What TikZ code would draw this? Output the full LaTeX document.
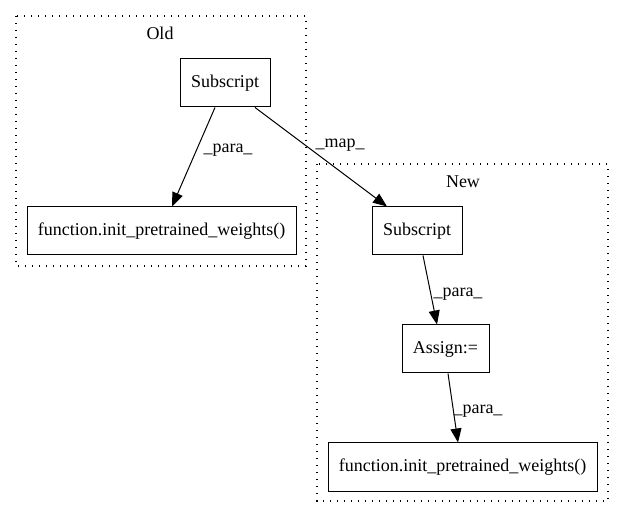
\documentclass[tikz,border=0pt]{standalone}
\usepackage{fontspec}
\setmainfont{Liberation Serif}
\usetikzlibrary{arrows.meta}
\begin{document}
\begin{tikzpicture}[x=1pt,y=-1pt,
  box/.style={draw,line width=1pt,inner sep=0pt,minimum height=48pt,font=\fontsize{18}{20}\selectfont},
  cluster/.style={draw,line width=1.1pt,dash pattern=on 1.3pt off 5.7pt},
  edge/.style={line width=1pt,-{Triangle[length=14pt,width=11pt]}},
  lbl/.style={font=\fontsize{18}{20}\selectfont,inner sep=0pt}]
\useasboundingbox (0,0) rectangle (624,518);
% clusters
\draw[cluster] (16,16) rectangle (306,266);
\node[lbl] (oldlbl) at (160,33) {Old};
\draw[cluster] (317,164) rectangle (608,501);
\node[lbl] (newlbl) at (463,182) {New};
% nodes
\node[box,minimum width=90pt] (os) at (225,83) {Subscript};
\node[box,minimum width=269pt] (of) at (161.5,231) {function.init\_pretrained\_weights()};
\node[box,minimum width=90pt] (ns) at (417,231) {Subscript};
\node[box,minimum width=87pt] (as) at (445.5,349) {Assign:=};
\node[box,minimum width=269pt] (nf) at (462.5,467) {function.init\_pretrained\_weights()};
% edges
\draw[edge] ([xshift=-10pt]os.south) -- ([xshift=10.5pt]of.north);
\draw[edge] ([xshift=30pt]os.south) -- ([xshift=-30pt]ns.north);
\draw[edge] ([xshift=6pt]ns.south) -- ([xshift=-8.5pt]as.north);
\draw[edge] ([xshift=2.5pt]as.south) -- ([xshift=-4.5pt]nf.north);
% edge labels
\node[lbl] (l1) at (228,150) {\_para\_};
\node[lbl] (l2) at (340,145) {\_map\_};
\node[lbl] (l3) at (458,294) {\_para\_};
\node[lbl] (l4) at (478,411) {\_para\_};
\end{tikzpicture}
\end{document}
